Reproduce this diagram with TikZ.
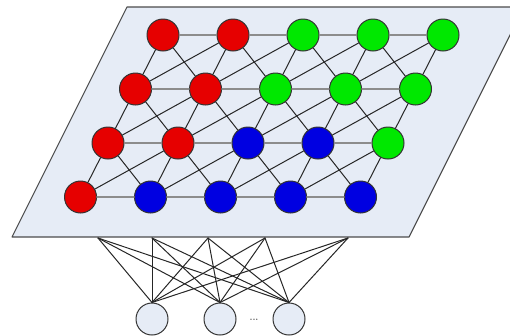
\documentclass[tikz,border=0pt]{standalone}
\usepackage{tikz}
\definecolor{red}{RGB}{230,0,0}
\definecolor{green}{RGB}{0,232,0}
\definecolor{blue}{RGB}{0,0,225}
\definecolor{plane}{RGB}{230,236,246}
\tikzset{
    unit/.style = {circle, draw=black!80, line width=1pt, minimum size=32pt, inner sep=0pt, fill=#1},
    input/.style = {circle, draw=black!80, line width=1pt, minimum size=32pt, inner sep=0pt, fill=plane},
    link/.style = {line width=1pt, black!85},
    rowlink/.style = {line width=1.8pt, black!45}
}

\begin{document}
\begin{tikzpicture}[line cap=round,line join=round,x=1pt,y=-1pt]
    \useasboundingbox (0,0) rectangle (510,335);
    \clip (0,0) rectangle (510,335);

    % the map plane
    \fill[plane] (12,237) -- (127,7) -- (524,7) -- (409,237) -- cycle;
    \draw[line width=1.1pt, black!70] (12,237) -- (127,7) -- (524,7) -- (409,237) -- cycle;

    % map units
    \foreach \cols [count=\r] in {{red,red,green,green,green},{red,red,green,green,green},{red,red,blue,blue,green},{red,blue,blue,blue,blue}}
        \foreach \col [count=\c] in \cols
            \node[unit=\col] (n\r\c) at ({163+70*(\c-1)-27.5*(\r-1)}, {35+54*(\r-1)}) {};

    % neighbours in a row
    \foreach \r in {1,...,4} {
        \foreach \c in {1,...,4} {
            \pgfmathtruncatemacro\nx{\c+1}
            \draw[rowlink] (n\r\c) -- (n\r\nx);
        }
    }

    % neighbours in the row below
    \foreach \r in {1,2,3} {
        \pgfmathtruncatemacro\s{\r+1}
        \foreach \c in {1,...,5} {
            \pgfmathtruncatemacro\nx{\c+1}
            \pgfmathtruncatemacro\pv{\c-1}
            \draw[link] (n\r\c) -- (n\s\c);
            \ifnum\c<5 \draw[link] (n\r\c) -- (n\s\nx); \fi
            \ifnum\c>1 \draw[link] (n\r\c) -- (n\s\pv); \fi
        }
    }

    % inputs
    \node[input] (i1) at (152,319) {};
    \node[input] (i2) at (220,319) {};
    \node[input] (i3) at (289,319) {};
    \node[font=\small\bfseries, text=black!65] (dots) at (254,320) {...};

    \coordinate (f1) at (98,238);
    \coordinate (f2) at (152,238);
    \coordinate (f3) at (208,238);
    \coordinate (f4) at (265,238);
    \coordinate (f5) at (348,238);
    \foreach \i in {1,2,3}
        \foreach \j in {1,...,5}
            \draw[link] (i\i.north) -- (f\j);
\end{tikzpicture}
\end{document}
